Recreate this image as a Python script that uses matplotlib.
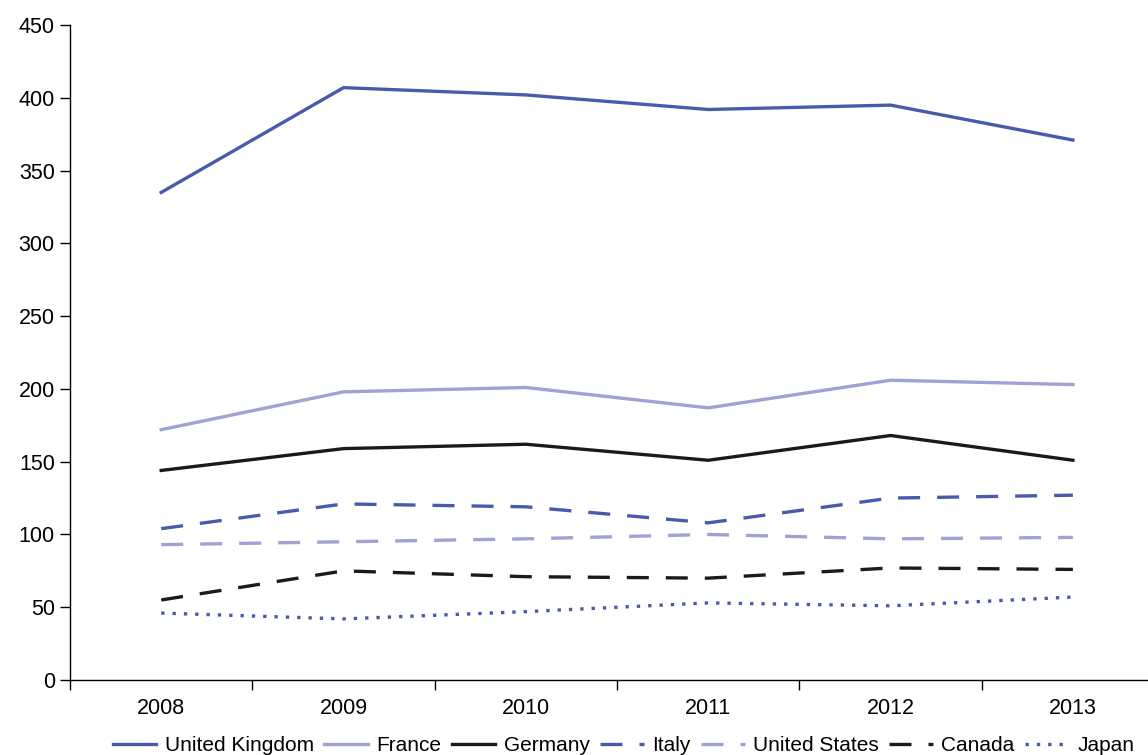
import matplotlib.pyplot as plt
import numpy as np

years = ['2008', '2009', '2010', '2011', '2012', '2013']
uk = [335, 407, 402, 392, 395, 371]
france = [172, 198, 201, 187, 206, 203]
germany = [144, 159, 162, 151, 168, 151]
italy = [104, 121, 119, 108, 125, 127]
us = [93, 95, 97, 100, 97, 98]
canada = [55, 75, 71, 70, 77, 76]
japan = [46, 42, 47, 53, 51, 57]

blue = '#4a5aaa'
light = '#9fa2d2'
dark = '#1a1a1a'

plt.rcParams['font.family'] = ['Liberation Sans', 'DejaVu Sans']

fig = plt.figure(figsize=(11.48, 7.55), dpi=100)
ax = fig.add_axes([0.061, 0.0993, 0.953, 0.8675])

x = np.arange(len(years))
lw = 2.4
dash = (0, (6.6, 5.1))
ax.plot(x, uk, color=blue, lw=lw, label='United Kingdom')
ax.plot(x, france, color=light, lw=lw, label='France')
ax.plot(x, germany, color=dark, lw=lw, label='Germany')
ax.plot(x, italy, color=blue, lw=lw, ls=dash, label='Italy')
ax.plot(x, us, color=light, lw=lw, ls=dash, label='United States')
ax.plot(x, canada, color=dark, lw=lw, ls=dash, label='Canada')
ax.plot(x, japan, color=blue, lw=lw, ls=(0, (1, 2.4)), label='Japan')

ax.set_xlim(-0.5, len(years) - 0.5)
ax.set_ylim(0, 450)
ax.set_yticks(range(0, 451, 50))
ax.set_xticks(x)
ax.set_xticklabels(years)
ax.set_xticks(np.arange(-0.5, len(years), 1), minor=True)
ax.tick_params(axis='x', which='major', length=0, pad=13, labelsize=15.5)
ax.tick_params(axis='x', which='minor', length=7, width=1, direction='out')
ax.tick_params(axis='y', length=7, width=1, direction='out', labelsize=15.5, pad=4)
for s in ['top', 'right']:
    ax.spines[s].set_visible(False)
for s in ['left', 'bottom']:
    ax.spines[s].set_linewidth(1)

leg = fig.legend(loc='lower center', bbox_to_anchor=(0.543, -0.025), ncol=7,
                 frameon=False, fontsize=15, handlelength=2.1,
                 columnspacing=0.5, handletextpad=0.4)

fig.savefig('out.png', dpi=100)
